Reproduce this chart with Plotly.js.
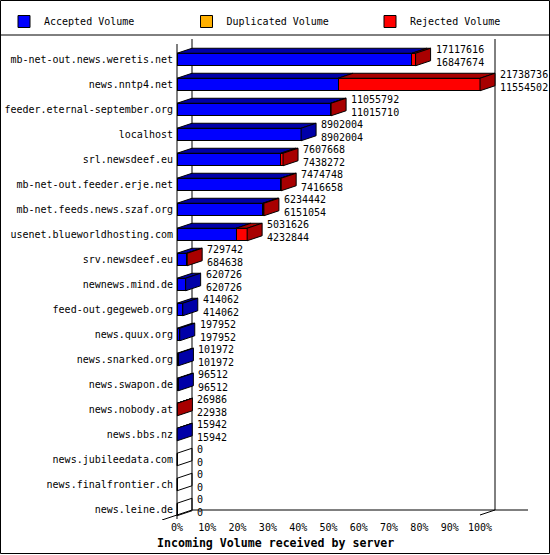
<!DOCTYPE html>
<html>
<head>
<meta charset="utf-8">
<script src="https://cdn.plot.ly/plotly-3.0.1.min.js"></script>
<style>
  html, body { margin: 0; padding: 0; background: #fff; }
  #chart { width: 550px; height: 555px; }
</style>
</head>
<body>
<div id="chart"></div>
<script>
const servers = [
  "mb-net-out.news.weretis.net",
  "news.nntp4.net",
  "feeder.eternal-september.org",
  "localhost",
  "srl.newsdeef.eu",
  "mb-net-out.feeder.erje.net",
  "mb-net.feeds.news.szaf.org",
  "usenet.blueworldhosting.com",
  "srv.newsdeef.eu",
  "newnews.mind.de",
  "feed-out.gegeweb.org",
  "news.quux.org",
  "news.snarked.org",
  "news.swapon.de",
  "news.nobody.at",
  "news.bbs.nz",
  "news.jubileedata.com",
  "news.finalfrontier.ch",
  "news.leine.de",
];
// offered volume (first number) and accepted volume (second number)
const totalVolume = [17117616, 21738736, 11055792, 8902004, 7607668, 7474748, 6234442,
  5031626, 729742, 620726, 414062, 197952, 101972, 96512, 26986, 15942, 0, 0, 0];
const acceptedVolume = [16847674, 11554502, 11015710, 8902004, 7438272, 7416658, 6151054,
  4232844, 684638, 620726, 414062, 197952, 101972, 96512, 22938, 15942, 0, 0, 0];
const duplicatedVolume = [0, 0, 0, 0, 0, 0, 0, 0, 0, 0, 0, 0, 0, 0, 0, 0, 0, 0, 0];
const pctTicks = [0, 10, 20, 30, 40, 50, 60, 70, 80, 90, 100];
const pctLabels = ["0%", "10%", "20%", "30%", "40%", "50%", "60%", "70%", "80%", "90%", "100%"];

const colors = {
  accepted: ["#0000ff", "#0000a8"],
  duplicated: ["#ffb000", "#a87400"],
  rejected: ["#ff0000", "#a80000"],
};
const MONO = "DejaVu Sans Mono, monospace";

// page geometry (pixels)
const W = 550, H = 555;
const M = { l: 160, r: 20, t: 36, b: 35, autoexpand: false };
const PW = W - M.l - M.r, PH = H - M.t - M.b;
const X0PX = 177, PX_PER_PCT = 3.03;   // front face: 0% at 177px
const ROW0PX = 59.5, ROWPX = 25;       // centre of first row, row pitch
const DEPTH_X = 15 / PX_PER_PCT;       // 3d depth in % units
const DEPTH_Y = 5 / ROWPX;             // 3d depth in row units
const BAR_H = 0.5;

const xRange = [(M.l - X0PX) / PX_PER_PCT, (W - M.r - X0PX) / PX_PER_PCT];
const yRange = [(H - M.b - ROW0PX) / ROWPX, (M.t - ROW0PX) / ROWPX];
const paperX = (px) => (px - M.l) / PW;
const paperY = (py) => 1 - (py - M.t) / PH;

const maxTotal = Math.max(...totalVolume);
const pct = (v) => (v / maxTotal) * 100;
const rows = servers.map((_, i) => i);
const rejectedVolume = totalVolume.map((t, i) => t - acceptedVolume[i] - duplicatedVolume[i]);

const accPct = acceptedVolume.map(pct);
const dupPct = duplicatedVolume.map(pct);
const rejPct = rejectedVolume.map(pct);

function frontTrace(name, values, color, legend) {
  return {
    type: "bar",
    orientation: "h",
    name,
    legend,
    x: values,
    y: rows,
    width: BAR_H,
    marker: { color, line: { color: "#000", width: 1 } },
    hoverinfo: "skip",
  };
}

// polygons for the top faces (one per segment) and the side face (end of bar)
function faces() {
  const tops = { accepted: { x: [], y: [] }, duplicated: { x: [], y: [] }, rejected: { x: [], y: [] } };
  const sides = { accepted: { x: [], y: [] }, duplicated: { x: [], y: [] }, rejected: { x: [], y: [] }, none: { x: [], y: [] } };
  const push = (o, xs, ys) => {
    o.x.push(...xs, xs[0], null);
    o.y.push(...ys, ys[0], null);
  };
  rows.forEach((i) => {
    const segs = [["accepted", accPct[i]], ["duplicated", dupPct[i]], ["rejected", rejPct[i]]];
    const yt = i - BAR_H / 2, yb = i + BAR_H / 2;
    let a = 0;
    let last = "none";
    segs.forEach(([k, v]) => {
      if (v <= 0) return;
      const b = a + v;
      push(tops[k], [a, b, b + DEPTH_X, a + DEPTH_X], [yt, yt, yt - DEPTH_Y, yt - DEPTH_Y]);
      a = b;
      last = k;
    });
    push(sides[last], [a, a, a + DEPTH_X, a + DEPTH_X], [yt, yb, yb - DEPTH_Y, yt - DEPTH_Y]);
  });
  const out = [];
  const mk = (o, fill) => ({
    type: "scatter",
    mode: "lines",
    x: o.x,
    y: o.y,
    fill: "toself",
    fillcolor: fill,
    line: { color: "#000", width: 1 },
    showlegend: false,
    hoverinfo: "skip",
  });
  ["accepted", "duplicated", "rejected"].forEach((k) => {
    if (tops[k].x.length) out.push(mk(tops[k], colors[k][1]));
    if (sides[k].x.length) out.push(mk(sides[k], colors[k][1]));
  });
  if (sides.none.x.length) out.push(mk(sides.none, "rgba(0,0,0,0)"));
  return out;
}

const traces = [
  frontTrace("Accepted Volume", accPct, colors.accepted[0], "legend"),
  frontTrace("Duplicated Volume", dupPct, colors.duplicated[0], "legend2"),
  frontTrace("Rejected Volume", rejPct, colors.rejected[0], "legend3"),
  ...faces(),
];

// value labels right of each bar
const annotations = rows.map((i) => ({
  x: pct(totalVolume[i]) + DEPTH_X,
  y: i - 0.16,
  xref: "x",
  yref: "y",
  xanchor: "left",
  yanchor: "middle",
  xshift: 3,
  align: "left",
  showarrow: false,
  text: `${totalVolume[i]}<br>${acceptedVolume[i]}`,
  font: { family: MONO, size: 10, color: "#000" },
}));
annotations.push({
  x: paperX(155),
  y: paperY(543),
  xref: "paper",
  yref: "paper",
  xanchor: "left",
  yanchor: "middle",
  showarrow: false,
  text: "<b>Incoming Volume received by server</b>",
  font: { family: MONO, size: 11.6, color: "#000" },
});

const floorBack = yRange[0] - (H - M.b - 515) / ROWPX - DEPTH_Y; // back floor row coordinate
const floorFront = floorBack + DEPTH_Y;
const topFront = yRange[1] + (44 - M.t) / ROWPX;
const line = (x0, y0, x1, y1) => ({
  type: "line", xref: "x", yref: "y", x0, y0, x1, y1,
  line: { color: "#000", width: 1 }, layer: "below",
});
const shapes = [
  line(0, topFront, 0, floorFront + 0.16),
  line(DEPTH_X, topFront - DEPTH_Y, DEPTH_X, floorBack),
  line(100 + DEPTH_X, topFront - DEPTH_Y, 100 + DEPTH_X, floorBack),
  line(DEPTH_X, floorBack, 100 + DEPTH_X * 3.2, floorBack),
  line(-DEPTH_X, floorFront + DEPTH_Y, DEPTH_X, floorBack),
  line(100, floorFront, 100 + DEPTH_X, floorBack),
  // frame and legend separator
  { type: "rect", xref: "paper", yref: "paper", x0: paperX(0.5), x1: paperX(W - 0.5), y0: paperY(0.5), y1: paperY(H - 1.5),
    line: { color: "#000", width: 1 } },
  { type: "line", xref: "paper", yref: "paper", x0: paperX(0), x1: paperX(W), y0: paperY(35), y1: paperY(35),
    line: { color: "#000", width: 1 } },
];

// one legend per entry so each can sit where the original puts it
const legendAt = (px) => ({
  orientation: "h",
  xref: "container",
  yref: "container",
  x: px / W,
  y: 1 - 7 / H,
  xanchor: "left",
  yanchor: "top",
  bgcolor: "rgba(0,0,0,0)",
  font: { family: MONO, size: 10, color: "#000" },
});

const layout = {
  width: W,
  height: H,
  margin: M,
  barmode: "stack",
  bargap: 0,
  paper_bgcolor: "#fff",
  plot_bgcolor: "#fff",
  font: { family: MONO, size: 10, color: "#000" },
  showlegend: true,
  legend: legendAt(4),
  legend2: legendAt(186.5),
  legend3: legendAt(370),
  xaxis: {
    range: xRange,
    tickvals: pctTicks,
    ticktext: pctLabels,
    showgrid: false,
    zeroline: false,
    showline: false,
    ticks: "",
    tickfont: { family: MONO, size: 10 },
    fixedrange: true,
  },
  yaxis: {
    range: yRange,
    tickvals: rows,
    ticktext: servers,
    showgrid: false,
    zeroline: false,
    showline: false,
    ticks: "",
    ticklabelstandoff: -14,
    tickfont: { family: MONO, size: 10 },
    fixedrange: true,
  },
  shapes,
  annotations,
};

Plotly.newPlot("chart", traces, layout, { displayModeBar: false, staticPlot: true });
</script>
</body>
</html>
